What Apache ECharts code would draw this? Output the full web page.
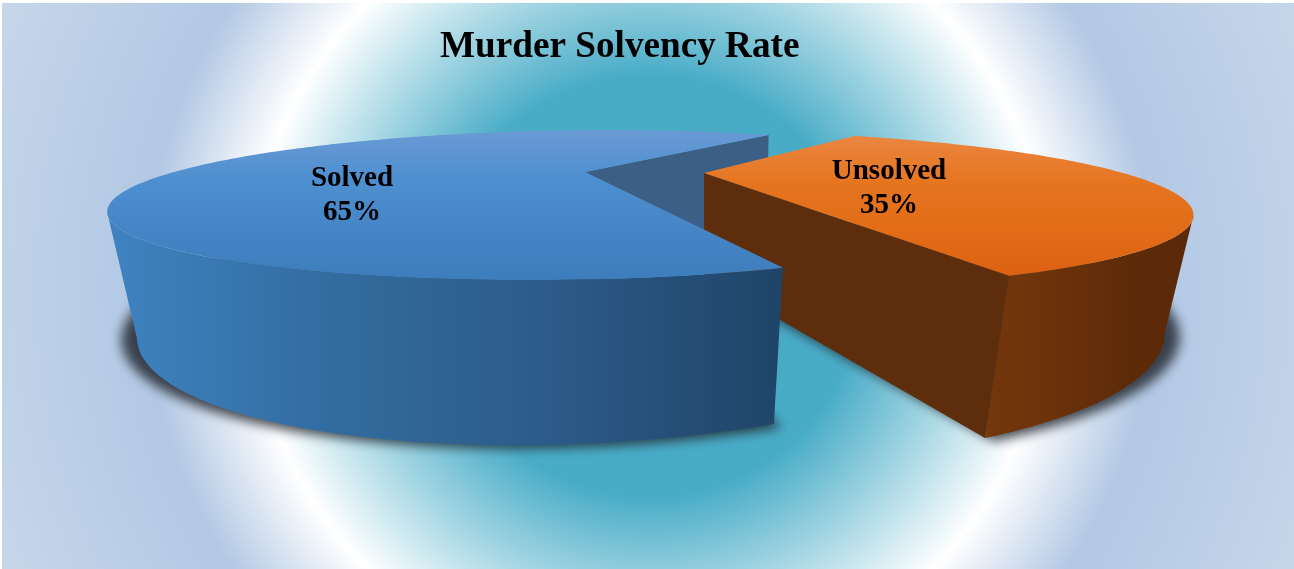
<!DOCTYPE html>
<html>
<head>
<meta charset="utf-8">
<title>Murder Solvency Rate</title>
<script src="https://cdn.jsdelivr.net/npm/echarts@6/dist/echarts.min.js"></script>
<style>
html, body { margin: 0; padding: 0; background: #fff; }
#main { width: 1294px; height: 569px; }
</style>
</head>
<body>
<div id="main"></div>
<script>
// data: Unsolved comes first so that Solved is painted in front of it
var categories = ['Unsolved', 'Solved'];
var values = [35, 65];
var chartTitle = 'Murder Solvency Rate';

// where the first slice starts, in degrees clockwise from 3 o'clock
var startAngle = -57;

// fake 3d: every slice is exploded, so each one has its own projection.
// top and foot are separate perspective ellipses
var sliceShape = {
    Solved: {
        top: { x: 585, y: 172, a: 60.4, b: 411, c: -33, k: 0.441 },
        foot: { x: 628, y: 258, a: 104.8, b: 404, c: -63, k: 0.44 },
        apexDrop: 90, rimDrop: 100,
        labelX: 352, labelY: 196,
        topColors: ['#6a9ad4', '#4e8fd0', '#4585c6', '#3e7dbc'],
        wallColors: ['#3f83c1', '#326c9f', '#2c5a88', '#1f4468'],
        cutColor: '#3c5f86'
    },
    Unsolved: {
        top: { x: 704, y: 173, a: 61.6, b: 419, c: 22, k: 0.472 },
        foot: { x: 735, y: 270, a: 96, b: 372, c: 0, k: 0.5 },
        apexDrop: 103, rimDrop: 0,
        labelX: 889, labelY: 188.5,
        topColors: ['#ea8642', '#e6751f', '#e26c17', '#dc6212'],
        wallColors: ['#75370c', '#6b320b', '#5e2b09', '#5a2909'],
        cutColor: '#5e2d0b'
    }
};

var total = values.reduce(function (s, v) { return s + v; }, 0);

function project(e, deg) {
    var t = deg * Math.PI / 180;
    var u = Math.cos(t);
    var v = Math.sin(t);
    var w = 1 - e.k * v;
    return [e.x + (e.b * u + e.c * v) / w, e.y + e.a * v / w];
}

function rim(e, from, to) {
    var pts = [];
    var n = Math.ceil(Math.abs(to - from));
    for (var i = 0; i <= n; i++) {
        pts.push(project(e, from + (to - from) * i / n));
    }
    return pts;
}

// stops the arc where it reaches the widest x, past that the wall is hidden
function visibleRim(pts, goesLeft) {
    var best = 0;
    for (var i = 0; i < pts.length; i++) {
        if (goesLeft ? pts[i][0] < pts[best][0] : pts[i][0] > pts[best][0]) best = i;
    }
    return pts.slice(0, best + 1);
}

function grad(x, y, x2, y2, colors) {
    return {
        type: 'linear', x: x, y: y, x2: x2, y2: y2,
        colorStops: colors.map(function (c, i) {
            return { offset: i / (colors.length - 1), color: c };
        })
    };
}

function renderSlice(params, api) {
    var index = params.dataIndex;
    var name = categories[index];
    var p = sliceShape[name];
    var before = 0;
    for (var i = 0; i < index; i++) before += values[i];
    var a0 = startAngle + before / total * 360;
    var a1 = a0 + api.value(0) / total * 360;
    var isFront = name === 'Solved';
    var base = isFront ? 2 : 1;

    var apexTop = [p.top.x, p.top.y];
    var apexFoot = [p.top.x, p.top.y + p.apexDrop];

    // wall on the outside of the arc, always walked from the front cut edge
    var wallFrom = isFront ? a0 : a1;
    var wallTo = isFront ? a1 : a0;
    var wallTop = visibleRim(rim(p.top, wallFrom, wallTo), isFront);
    var wallFoot = visibleRim(rim(p.foot, wallFrom, wallTo), isFront);
    var wallPts = wallTop.concat(wallFoot.slice().reverse());

    // cut face turned to the viewer, it is the far edge of the arc (a1) for both
    var cutTop = project(p.top, a1);
    var cutFoot = p.rimDrop ? [cutTop[0] - 2, cutTop[1] + p.rimDrop] : project(p.foot, a1);
    var cutPts = [apexTop, cutTop, cutFoot, apexFoot];

    // ground shadow: the polygon sits off the page, only its blur lands on the chart
    var far = 3000;
    var shadowFoot = Object.assign({}, p.foot, { b: p.foot.b * 1.035, y: p.foot.y + 3 });
    var shadowPts = [[apexFoot[0], apexFoot[1] + 3]].concat(rim(shadowFoot, a0, a1))
        .map(function (q) { return [q[0] - far, q[1]]; });

    var children = [
        {
            type: 'polygon', z2: -1,
            shape: { points: shadowPts },
            style: {
                fill: '#000',
                shadowBlur: 12, shadowColor: 'rgba(34,40,48,0.85)', shadowOffsetX: far
            }
        },
        {
            type: 'polygon', z2: isFront ? 0 : base,
            shape: { points: cutPts },
            style: { fill: p.cutColor }
        },
        {
            type: 'polygon', z2: base,
            shape: { points: wallPts },
            style: { fill: grad(0, 0, 1, 0, p.wallColors) }
        },
        {
            type: 'polygon', z2: base,
            shape: { points: [apexTop].concat(rim(p.top, a0, a1)) },
            style: { fill: grad(0, 0, 0, 1, p.topColors) }
        },
        {
            type: 'text', z2: 5,
            style: {
                x: p.labelX, y: p.labelY,
                text: name + '\n' + Math.round(api.value(0) / total * 100) + '%',
                fill: '#000',
                font: 'bold 29px "Liberation Serif"',
                lineHeight: 34,
                align: 'center', verticalAlign: 'middle'
            }
        }
    ];
    return { type: 'group', children: children };
}

var myChart = echarts.init(document.getElementById('main'));

var option = {
    backgroundColor: '#fff',
    animation: false,
    title: {
        text: chartTitle,
        left: 435,
        top: 24,
        textStyle: {
            fontFamily: 'Liberation Serif',
            fontWeight: 'bold',
            fontSize: 37.2,
            color: '#000'
        }
    },
    graphic: [{
        type: 'rect',
        z: -10,
        silent: true,
        shape: { x: 2, y: 3, width: 1292, height: 566 },
        style: {
            fill: {
                type: 'radial', global: true, x: 650, y: 286, r: 710,
                colorStops: [
                    { offset: 0, color: '#46aac5' },
                    { offset: 0.296, color: '#48acc7' },
                    { offset: 0.563, color: '#ffffff' },
                    { offset: 0.711, color: '#b2c8e4' },
                    { offset: 1, color: '#c6d7ea' }
                ]
            }
        }
    }],
    series: [{
        type: 'custom',
        coordinateSystem: 'none',
        renderItem: renderSlice,
        silent: true,
        data: values.map(function (v) { return [v]; })
    }]
};

myChart.setOption(option);
window.onresize = myChart.resize;
</script>
</body>
</html>
